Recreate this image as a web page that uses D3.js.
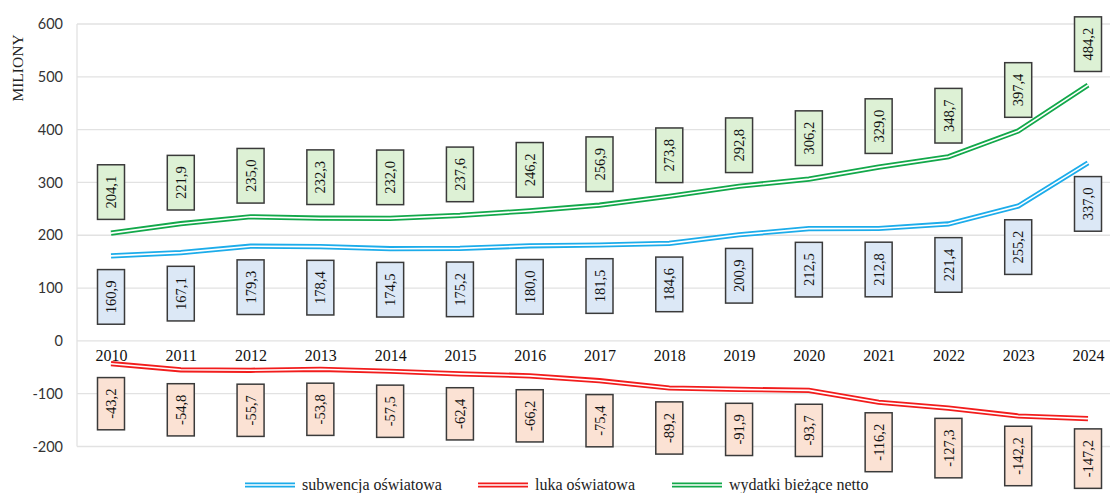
<!DOCTYPE html>
<html>
<head>
<meta charset="utf-8">
<script src="https://cdn.jsdelivr.net/npm/d3@7"></script>
<style>
  html, body { margin: 0; padding: 0; background: #fff; }
  svg { display: block; }
</style>
</head>
<body>
<div id="chart"></div>
<script>
// Years on the horizontal axis
const years = ["2010","2011","2012","2013","2014","2015","2016","2017","2018","2019","2020","2021","2022","2023","2024"];

// Series values (mln zł)
const wydatki = [204.1, 221.9, 235.0, 232.3, 232.0, 237.6, 246.2, 256.9, 273.8, 292.8, 306.2, 329.0, 348.7, 397.4, 484.2];
const subwencja = [160.9, 167.1, 179.3, 178.4, 174.5, 175.2, 180.0, 181.5, 184.6, 200.9, 212.5, 212.8, 221.4, 255.2, 337.0];
const luka = [-43.2, -54.8, -55.7, -53.8, -57.5, -62.4, -66.2, -75.4, -89.2, -91.9, -93.7, -116.2, -127.3, -142.2, -147.2];

// Vertical axis ticks
const yTicks = [-200, -100, 0, 100, 200, 300, 400, 500, 600];

const seriesNames = ["subwencja oświatowa", "luka oświatowa", "wydatki bieżące netto"];

const W = 1110, H = 493;
const plotLeft = 77;

const svg = d3.select("#chart").append("svg")
  .attr("width", W).attr("height", H);

const x = d3.scalePoint().domain(years).range([111, 1088]);
const y = d3.scaleLinear().domain([-200, 600]).range([446.5, 24]);

const serif = "'Liberation Serif', 'Times New Roman', serif";

// horizontal gridlines
svg.append("g").selectAll("line")
  .data(yTicks)
  .join("line")
  .attr("x1", plotLeft).attr("x2", W)
  .attr("y1", d => y(d)).attr("y2", d => y(d))
  .attr("stroke", "#e2e2e2").attr("stroke-width", 1.3);

// left plot border
svg.append("line")
  .attr("x1", plotLeft).attr("x2", plotLeft)
  .attr("y1", y(600)).attr("y2", y(-200))
  .attr("stroke", "#e2e2e2").attr("stroke-width", 1.3);

// y axis, plain hyphen for negatives
const yAxis = svg.append("g")
  .attr("transform", `translate(${plotLeft},0)`)
  .call(d3.axisLeft(y).tickValues(yTicks).tickSize(0).tickPadding(14).tickFormat(d => String(d)));
yAxis.select(".domain").remove();
yAxis.selectAll("text")
  .attr("font-family", "Lato, 'Open Sans', sans-serif")
  .attr("font-size", 14.5)
  .attr("fill", "#333");

// axis title
svg.append("text")
  .attr("transform", "translate(23,68) rotate(-90)")
  .attr("text-anchor", "middle")
  .attr("font-family", serif)
  .attr("font-size", 15.5)
  .attr("fill", "#222")
  .text("MILIONY");

// x axis labels at zero
const xAxis = svg.append("g")
  .attr("transform", `translate(0,${y(0)})`)
  .call(d3.axisBottom(x).tickSize(0).tickPadding(9));
xAxis.select(".domain").remove();
xAxis.selectAll("text")
  .attr("font-family", serif)
  .attr("font-size", 16)
  .attr("fill", "#111");

const series = [
  { name: seriesNames[0], values: subwencja, color: "#1cacea", fill: "#dce8f6", offset: 41 },
  { name: seriesNames[1], values: luka, color: "#f21c1c", fill: "#fbe2d4", offset: 40 },
  { name: seriesNames[2], values: wydatki, color: "#12a84a", fill: "#ddf1d5", offset: -41 }
];

const line = d3.line().x((d, i) => x(years[i])).y(d => y(d));

// double lines: wide coloured stroke with a thin white core
const lines = svg.append("g");
series.forEach(s => {
  lines.append("path")
    .attr("d", line(s.values))
    .attr("fill", "none")
    .attr("stroke", s.color)
    .attr("stroke-width", 5.2);
  lines.append("path")
    .attr("d", line(s.values))
    .attr("fill", "none")
    .attr("stroke", "#fff")
    .attr("stroke-width", 1.6);
});

// value labels in boxes, rotated
const fmt = v => d3.format(".1f")(v).replace(".", ",").replace("−", "-");
const labels = svg.append("g");
series.forEach(s => {
  s.values.forEach((v, i) => {
    const cx = x(years[i]);
    const cy = y(v) + s.offset;
    const g = labels.append("g").attr("transform", `translate(${cx},${cy}) rotate(-90)`);
    const rect = g.append("rect");
    const t = g.append("text")
      .attr("text-anchor", "middle")
      .attr("dy", "0.35em")
      .attr("font-family", serif)
      .attr("font-size", 14.5)
      .attr("fill", "#111")
      .text(fmt(v));
    const len = t.node().getComputedTextLength();
    const bw = len + 22, bh = 27;
    rect.attr("x", -bw / 2).attr("y", -bh / 2)
      .attr("width", bw).attr("height", bh)
      .attr("fill", s.fill)
      .attr("stroke", "#3a3a3a")
      .attr("stroke-width", 1.5);
  });
});

// legend
const legendItems = [
  { s: series[0], x: 245 },
  { s: series[1], x: 478 },
  { s: series[2], x: 672 }
];
const legend = svg.append("g").attr("transform", "translate(0,485)");
legendItems.forEach(it => {
  legend.append("line")
    .attr("x1", it.x).attr("x2", it.x + 50)
    .attr("y1", 0).attr("y2", 0)
    .attr("stroke", it.s.color).attr("stroke-width", 5);
  legend.append("line")
    .attr("x1", it.x).attr("x2", it.x + 50)
    .attr("y1", 0).attr("y2", 0)
    .attr("stroke", "#fff").attr("stroke-width", 1.5);
  legend.append("text")
    .attr("x", it.x + 57)
    .attr("y", 0)
    .attr("dy", "0.32em")
    .attr("font-family", serif)
    .attr("font-size", 16)
    .attr("fill", "#222")
    .text(it.s.name);
});
</script>
</body>
</html>
